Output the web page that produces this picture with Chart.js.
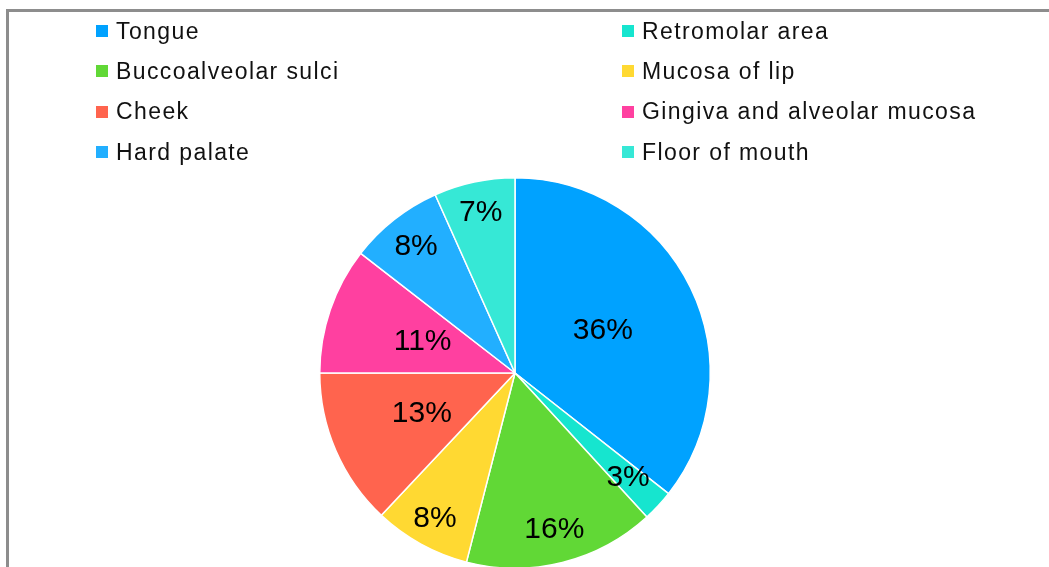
<!DOCTYPE html>
<html>
<head>
<meta charset="utf-8">
<script src="https://cdn.jsdelivr.net/npm/chart.js@4"></script>
<style>
  html, body { margin: 0; padding: 0; background: #fff; overflow: hidden; }
  body { width: 1049px; height: 567px; position: relative; }
  .frame {
    position: absolute; left: 6px; top: 9px; width: 1100px; height: 600px;
    border-left: 3px solid #8d8d8d; border-top: 3px solid #8d8d8d;
  }
  .wrap { position: absolute; left: 0; top: 0; width: 1049px; height: 590px; }
  .legend {
    position: absolute; left: 96px; top: 11px;
    display: grid; grid-template-columns: 526px auto; grid-auto-rows: 40.3px;
    font-family: "Liberation Sans", Arial, sans-serif; font-size: 23px;
    letter-spacing: 1.4px; color: #111;
  }
  .legend div { display: flex; align-items: center; white-space: nowrap; }
  .legend span.box { width: 12px; height: 12px; margin-right: 8px; flex: none; }
</style>
</head>
<body>
<div class="frame"></div>
<div class="wrap"><canvas id="pie"></canvas></div>
<div class="legend" id="legend"></div>
<script>
const sites = ['Tongue', 'Retromolar area', 'Buccoalveolar sulci', 'Mucosa of lip',
  'Cheek', 'Gingiva and alveolar mucosa', 'Hard palate', 'Floor of mouth'];
// share of cases, % (labels show the rounded value)
const shares = [35.6, 2.6, 15.8, 8.0, 13.0, 10.5, 7.8, 6.7];
const colors = ['#00a2ff', '#16e5cf', '#61d836', '#ffd932',
  '#ff644e', '#ff40a0', '#22afff', '#36e8d6'];

// where each label sits along the slice radius (Excel "best fit" look)
const labelRadius = [0.5, 0.79, 0.83, 0.85, 0.52, 0.5, 0.82, 0.84];

const legend = document.getElementById('legend');
sites.forEach((s, i) => {
  const d = document.createElement('div');
  d.innerHTML = '<span class="box" style="background:' + colors[i] + '"></span>' + s;
  legend.appendChild(d);
});

const sliceLabels = {
  id: 'sliceLabels',
  afterDatasetsDraw(chart) {
    const ctx = chart.ctx;
    const arcs = chart.getDatasetMeta(0).data;
    ctx.save();
    ctx.font = '30px "Liberation Sans", Arial, sans-serif';
    ctx.fillStyle = '#000';
    ctx.textAlign = 'center';
    ctx.textBaseline = 'middle';
    arcs.forEach((arc, i) => {
      const p = arc.getProps(['x', 'y', 'startAngle', 'endAngle', 'outerRadius'], true);
      const mid = (p.startAngle + p.endAngle) / 2;
      const r = p.outerRadius * labelRadius[i];
      ctx.fillText(Math.round(shares[i]) + '%', p.x + Math.cos(mid) * r, p.y + Math.sin(mid) * r);
    });
    ctx.restore();
  }
};

new Chart(document.getElementById('pie'), {
  type: 'pie',
  data: {
    labels: sites,
    datasets: [{
      data: shares,
      backgroundColor: colors,
      borderColor: '#ffffff',
      borderWidth: 1.5
    }]
  },
  options: {
    responsive: true,
    maintainAspectRatio: false,
    animation: false,
    layout: { padding: { top: 177, bottom: 21, left: 0, right: 19 } },
    plugins: {
      legend: { display: false },
      tooltip: { enabled: false }
    }
  },
  plugins: [sliceLabels]
});
</script>
</body>
</html>
